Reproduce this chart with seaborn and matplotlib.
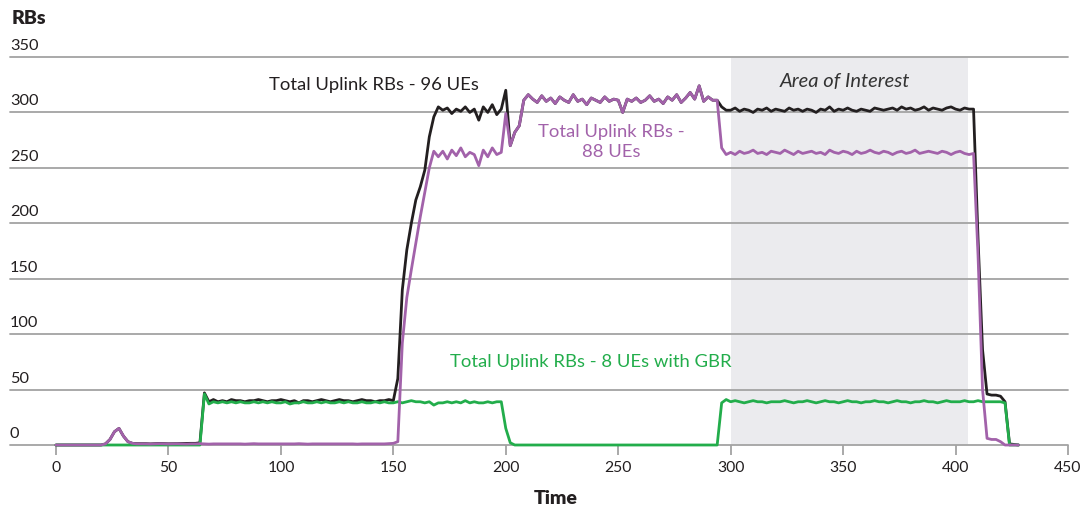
import numpy as np
import pandas as pd
import matplotlib
matplotlib.use("Agg")
import matplotlib.pyplot as plt
import matplotlib.transforms as mtransforms
import seaborn as sns

# ---------------- data ----------------
time = list(range(0, 429, 2))

rbs_96_ues = [
    0, 0, 0, 0, 0, 0, 0, 0, 0, 0,
    0, 1, 5, 12, 15, 8, 3, 1.5, 1.2, 1.2,
    1.2, 1, 1.2, 1.4, 1.2, 1.1, 1.2, 1.3, 1.5, 1.5,
    1.5, 1.5, 2, 47, 39, 41, 39, 40, 39, 41,
    40, 40, 39, 40, 40, 41, 40, 39, 40, 40,
    41, 40, 39, 40, 38, 40, 40, 39, 40, 41,
    40, 39, 40, 41, 40, 40, 39, 40, 41, 40,
    40, 39, 40, 40, 41, 40, 60, 140, 176, 200,
    221, 233, 248, 278, 296, 305, 302, 304, 299, 303,
    301, 305, 300, 303, 293, 305, 300, 307, 298, 303,
    320, 270, 282, 288, 311, 316, 312, 309, 315, 310,
    313, 308, 314, 311, 309, 316, 310, 312, 307, 313,
    311, 309, 314, 310, 312, 311, 300, 312, 310, 313,
    309, 311, 315, 310, 312, 308, 314, 311, 316, 309,
    313, 318, 312, 324, 310, 314, 311, 311, 305, 302,
    302, 304, 301, 303, 302, 300, 303, 302, 304, 301,
    303, 302, 301, 304, 302, 303, 301, 303, 302, 300,
    303, 302, 305, 301, 303, 302, 304, 302, 301, 303,
    302, 301, 304, 303, 302, 303, 304, 302, 305, 303,
    304, 302, 303, 305, 302, 304, 303, 302, 304, 305,
    303, 302, 304, 303, 303, 186, 86, 46, 45, 45,
    44, 39, 1, 0.5, 0,
]

rbs_88_ues = [
    0, 0, 0, 0, 0, 0, 0, 0, 0, 0,
    0, 1, 5, 12, 15, 8, 3, 1.5, 1, 1,
    1, 0.8, 1, 1.2, 1, 0.9, 1, 1.1, 1, 0.8,
    1, 1, 1.2, 1, 0.8, 1, 1, 1.1, 1, 0.9,
    1, 1, 0.8, 1, 1.2, 1, 1, 0.9, 1, 1.1,
    1, 0.9, 1, 1, 1.2, 1, 0.8, 1, 1, 1.1,
    1, 1, 0.9, 1, 1.1, 1, 1, 0.8, 1, 1,
    1, 1.1, 1, 1, 1.2, 1.5, 3, 92, 133, 158,
    182, 206, 228, 250, 265, 260, 265, 258, 266, 261,
    268, 260, 264, 262, 252, 266, 260, 268, 262, 264,
    299, 270, 282, 288, 311, 316, 312, 309, 315, 310,
    313, 308, 314, 311, 309, 316, 310, 312, 307, 313,
    311, 309, 314, 310, 312, 311, 300, 312, 310, 313,
    309, 311, 315, 310, 312, 308, 314, 311, 316, 309,
    313, 318, 312, 324, 310, 314, 311, 311, 268, 262,
    264, 262, 265, 263, 264, 266, 263, 264, 262, 265,
    264, 263, 266, 264, 262, 265, 263, 264, 265, 263,
    264, 262, 266, 264, 263, 265, 264, 262, 265, 263,
    264, 266, 264, 263, 265, 264, 262, 264, 265, 263,
    264, 266, 263, 264, 265, 264, 263, 265, 264, 262,
    264, 265, 263, 262, 263, 171, 50, 6, 5, 5,
    3, 0, 0, 0, 0,
]

rbs_8_ues_gbr = [
    0, 0, 0, 0, 0, 0, 0, 0, 0, 0,
    0, 0, 0, 0, 0, 0, 0, 0, 0, 0,
    0, 0, 0, 0, 0, 0, 0, 0, 0, 0,
    0, 0, 0, 46, 37, 39, 38, 39, 38, 39,
    38, 39, 38, 38, 39, 38, 39, 38, 39, 38,
    38, 39, 37, 38, 38, 39, 38, 38, 39, 38,
    39, 38, 38, 39, 38, 39, 38, 38, 39, 38,
    38, 39, 38, 39, 38, 38, 39, 38, 39, 40,
    39, 39, 38, 39, 36, 38, 38, 39, 38, 39,
    38, 40, 38, 39, 38, 38, 39, 38, 39, 39,
    15, 2, 0, 0, 0, 0, 0, 0, 0, 0,
    0, 0, 0, 0, 0, 0, 0, 0, 0, 0,
    0, 0, 0, 0, 0, 0, 0, 0, 0, 0,
    0, 0, 0, 0, 0, 0, 0, 0, 0, 0,
    0, 0, 0, 0, 0, 0, 0, 0, 38, 41,
    39, 40, 39, 38, 39, 40, 39, 39, 38, 39,
    39, 39, 40, 39, 38, 39, 39, 40, 39, 38,
    39, 40, 39, 39, 38, 39, 40, 39, 39, 38,
    39, 39, 40, 39, 39, 38, 39, 40, 39, 39,
    38, 39, 39, 40, 39, 39, 38, 39, 40, 39,
    39, 39, 40, 39, 39, 40, 39, 39, 39, 39,
    39, 38, 0, 0, 0,
]

series_names = ["96 UEs", "8 UEs with GBR", "88 UEs"]
y_ticks = [0, 50, 100, 150, 200, 250, 300, 350]
x_ticks = [0, 50, 100, 150, 200, 250, 300, 350, 400, 450]
area_of_interest = (300, 405.5)

# ---------------- style ----------------
sns.set_theme(style="white")
plt.rcParams["font.family"] = ["Lato", "DejaVu Sans"]

BLACK = "#231f20"
GREEN = "#22ad4b"
PURPLE = "#a262aa"
GRID = "#a3a3a3"
TXT = "#231f20"

fig = plt.figure(figsize=(10.8, 5.12), dpi=100)
ax = fig.add_axes([10 / 1080, 67 / 512, 1058 / 1080, 388 / 512])

ax.fill_between(list(area_of_interest), 0, 350, color="#ebebee", lw=0, zorder=0)
for y in y_ticks:
    ax.axhline(y, color=GRID, lw=1.3, zorder=1)

df = pd.DataFrame({
    "Time": time,
    series_names[0]: rbs_96_ues,
    series_names[1]: rbs_8_ues_gbr,
    series_names[2]: rbs_88_ues,
}).melt(id_vars="Time", var_name="Series", value_name="RBs")

sns.lineplot(data=df, x="Time", y="RBs", hue="Series", hue_order=series_names,
             palette=[BLACK, GREEN, PURPLE], linewidth=2.0, legend=False,
             ax=ax, zorder=3)
for ln in ax.lines:
    ln.set_clip_on(False)
    ln.set_solid_joinstyle("round")

ax.set_xlim(-20.45, 450)
ax.set_ylim(0, 350)
for s in ax.spines.values():
    s.set_visible(False)

ax.set_xticks(x_ticks)
ax.set_xticklabels([str(v) for v in x_ticks])
ax.tick_params(axis="x", direction="out", length=7.5, width=1.3, color=GRID,
               pad=4, labelsize=11.3, labelcolor=TXT, bottom=True)
ax.set_yticks([])
ax.set_xlabel("")
ax.set_ylabel("")

trans = mtransforms.blended_transform_factory(ax.transAxes, ax.transData)
for y in y_ticks:
    ax.annotate(str(y), xy=(0, y), xycoords=trans, xytext=(0, 5),
                textcoords="offset points", ha="left", va="baseline",
                fontsize=11.8, color=TXT)

fig.text(12 / 1080, 1 - 24 / 512, "RBs", fontsize=14, fontweight="heavy",
         color=BLACK, ha="left", va="baseline")
fig.text(556 / 1080, 1 - 498 / 512, "Time", fontsize=14, fontweight="heavy",
         color=BLACK, ha="center", va="center")

ax.text(141.4, 324.6, "Total Uplink RBs - 96 UEs", fontsize=13.3, color=BLACK,
        ha="center", va="center")
ax.text(246.8, 273, "Total Uplink RBs -\n88 UEs", fontsize=13.3, color=PURPLE,
        ha="center", va="center", multialignment="center", linespacing=1.3)
ax.text(237.9, 74.8, "Total Uplink RBs - 8 UEs with GBR", fontsize=13.3,
        color=GREEN, ha="center", va="center")
ax.text(350.8, 328, "Area of Interest", fontsize=14.5, style="italic",
        color="#333333", ha="center", va="center")

fig.savefig("out.png", dpi=100)
